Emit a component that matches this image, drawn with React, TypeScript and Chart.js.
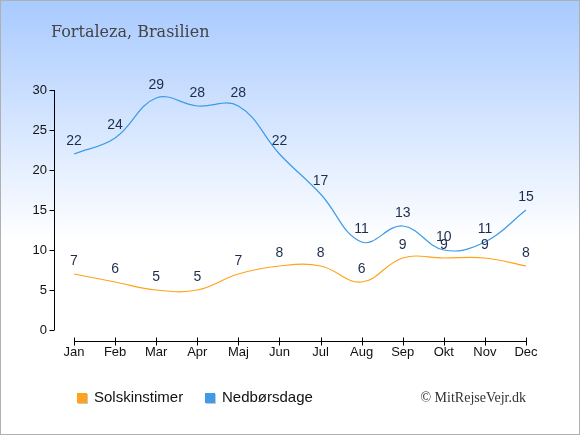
import { useEffect, useRef } from 'react';
import { Chart, registerables, Plugin } from 'chart.js';

Chart.register(...registerables);

const months = ['Jan', 'Feb', 'Mar', 'Apr', 'Maj', 'Jun', 'Jul', 'Aug', 'Sep', 'Okt', 'Nov', 'Dec'];
const sunHours = [7, 6, 5, 5, 7, 8, 8, 6, 9, 9, 9, 8];
const rainDays = [22, 24, 29, 28, 28, 22, 17, 11, 13, 10, 11, 15];
const yTicks = [0, 5, 10, 15, 20, 25, 30];

const SUN_COLOR = '#ffa31a';
const RAIN_COLOR = '#3d9be9';
const LABEL_COLOR = '#1f2d4d';

// background, title, axes, value labels, legend and credit
const decorPlugin: Plugin<'line'> = {
  id: 'decor',
  beforeDraw(chart) {
    const { ctx, width, height } = chart;
    ctx.save();
    const grad = ctx.createLinearGradient(0, 0, 0, 240);
    grad.addColorStop(0, '#a8caff');
    grad.addColorStop(1, '#ffffff');
    ctx.fillStyle = grad;
    ctx.fillRect(0, 0, width, height);
    ctx.strokeStyle = '#b0b0b0';
    ctx.lineWidth = 1;
    ctx.strokeRect(0.5, 0.5, width - 1, height - 1);

    ctx.fillStyle = '#444444';
    ctx.font = '16px "DejaVu Serif"';
    ctx.textBaseline = 'middle';
    ctx.textAlign = 'left';
    ctx.fillText('Fortaleza, Brasilien', 51, 33);

    const x = chart.scales.x;
    const y = chart.scales.y;
    ctx.strokeStyle = '#000000';
    ctx.beginPath();
    // y axis
    const ax = 54.5;
    ctx.moveTo(ax, y.getPixelForValue(30));
    ctx.lineTo(ax, y.getPixelForValue(0));
    yTicks.forEach((v) => {
      const py = Math.round(y.getPixelForValue(v)) + 0.5;
      ctx.moveTo(ax - 5, py);
      ctx.lineTo(ax, py);
    });
    // x axis
    const ay = 341.5;
    ctx.moveTo(x.getPixelForValue(0), ay);
    ctx.lineTo(x.getPixelForValue(months.length - 1), ay);
    months.forEach((_, i) => {
      const px = Math.round(x.getPixelForValue(i)) + 0.5;
      ctx.moveTo(px, ay - 4);
      ctx.lineTo(px, ay + 4);
    });
    ctx.stroke();
    ctx.restore();
  },
  afterDraw(chart) {
    const { ctx } = chart;
    ctx.save();
    ctx.font = '14px "Liberation Sans"';
    ctx.fillStyle = LABEL_COLOR;
    ctx.textAlign = 'center';
    ctx.textBaseline = 'middle';
    chart.data.datasets.forEach((ds, di) => {
      const meta = chart.getDatasetMeta(di);
      meta.data.forEach((pt, i) => {
        ctx.fillText(String(ds.data[i]), pt.x, pt.y - 13);
      });
    });

    const items = [
      { label: 'Solskinstimer', color: SUN_COLOR, x: 77 },
      { label: 'Nedbørsdage', color: RAIN_COLOR, x: 205 },
    ];
    ctx.font = '15px "Liberation Sans"';
    ctx.textAlign = 'left';
    items.forEach((it) => {
      ctx.fillStyle = '#c8c8c8';
      ctx.fillRect(it.x + 1, 394, 10, 10);
      ctx.fillStyle = it.color;
      ctx.fillRect(it.x, 393, 10, 10);
      ctx.fillStyle = '#111111';
      ctx.fillText(it.label, it.x + 17, 398);
    });

    ctx.font = '14px "Liberation Serif"';
    ctx.fillStyle = '#333333';
    ctx.textAlign = 'right';
    ctx.fillText('© MitRejseVejr.dk', 526, 398);
    ctx.restore();
  },
};

export default function App() {
  const canvasRef = useRef<HTMLCanvasElement>(null);

  useEffect(() => {
    if (!canvasRef.current) return;
    document.body.style.margin = '0';

    const chart = new Chart(canvasRef.current, {
      type: 'line',
      data: {
        labels: months,
        datasets: [
          {
            label: 'Solskinstimer',
            data: sunHours,
            borderColor: SUN_COLOR,
            borderWidth: 1.2,
            pointRadius: 0,
            tension: 0.4,
            clip: false,
          },
          {
            label: 'Nedbørsdage',
            data: rainDays,
            borderColor: RAIN_COLOR,
            borderWidth: 1.2,
            pointRadius: 0,
            tension: 0.4,
            clip: false,
          },
        ],
      },
      options: {
        responsive: false,
        animation: false,
        devicePixelRatio: 1,
        layout: { padding: { top: 90, right: 54, bottom: 0, left: 0 } },
        plugins: {
          legend: { display: false },
          tooltip: { enabled: false },
        },
        scales: {
          x: {
            offset: false,
            grid: { display: false, drawTicks: false },
            border: { display: false },
            ticks: {
              color: '#111111',
              font: { family: 'Liberation Sans', size: 13 },
              padding: 15,
              maxRotation: 0,
              autoSkip: false,
            },
            afterFit: (axis) => {
              axis.height = 105;
            },
          },
          y: {
            min: 0,
            max: 30,
            grid: { display: false, drawTicks: false },
            border: { display: false },
            ticks: {
              stepSize: 5,
              color: '#111111',
              font: { family: 'Liberation Sans', size: 13 },
              padding: 27,
            },
            afterFit: (axis) => {
              axis.width = 74;
            },
          },
        },
      },
      plugins: [decorPlugin],
    });

    return () => chart.destroy();
  }, []);

  return (
    <div style={{ width: 580, height: 435 }}>
      <canvas ref={canvasRef} width={580} height={435} />
    </div>
  );
}
